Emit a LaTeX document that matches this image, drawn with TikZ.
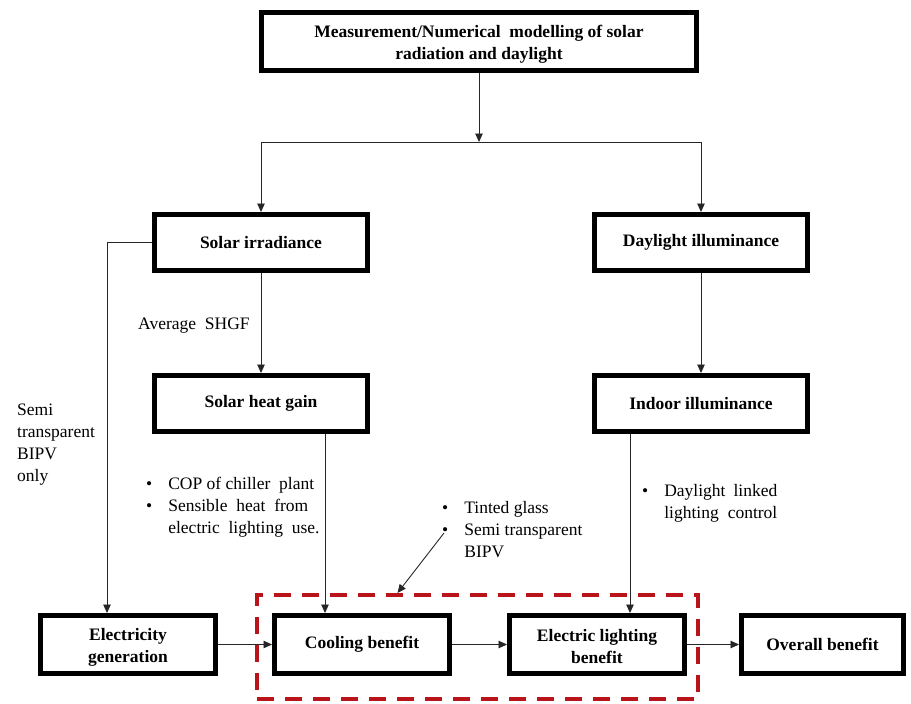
\documentclass[tikz,border=0pt]{standalone}
\usepackage{fontspec}
\setmainfont{Liberation Serif}
\usetikzlibrary{calc,arrows.meta}
\usetikzlibrary{positioning}
\definecolor{boxred}{RGB}{185,20,25}

\begin{document}
\begin{tikzpicture}[
    x=1pt, y=-1pt,
    block/.style={draw=black, line width=5pt, inner sep=2pt, align=center,
        font=\bfseries\fontsize{17.5}{22}\selectfont},
    wide/.style={block, minimum width=435pt, minimum height=58pt},
    midbox/.style={block, minimum width=213pt, minimum height=56pt},
    lowbox/.style={block, minimum width=175pt, minimum height=58pt},
    note/.style={inner sep=0pt, align=left, font=\fontsize{17.5}{22}\selectfont},
    conn/.style={draw=black!85, line width=0.9pt},
    arr/.style={conn, -{Triangle[length=8.5pt, width=7.5pt]}}
]
    \useasboundingbox (0,0) rectangle (911,704);

    % boxes
    \node[wide] (meas) at (479,41.5) {\rule{0pt}{17pt}Measurement/Numerical\ \ modelling of solar\\radiation and daylight};
    \node[midbox] (irr) at (261,242.5) {Solar irradiance};
    \node[midbox] (dlight) at (701,242.5) {Daylight illuminance};
    \node[midbox] (heat) at (261,403.5) {Solar heat gain};
    \node[midbox] (indoor) at (701,403.5) {Indoor illuminance};
    \node[lowbox] (elec) at (128,644.5) {\rule{0pt}{17pt}Electricity\\generation};
    \node[lowbox] (cool) at (362,644.5) {Cooling benefit};
    \node[lowbox] (light) at (597,644.5) {\rule{0pt}{17pt}Electric lighting\\benefit};
    \node[lowbox, minimum width=162pt] (overall) at (822.5,644.5) {Overall benefit};
    \node[draw=boxred, line width=4pt, dash pattern=on 17pt off 11pt, inner sep=0pt,
        minimum width=441pt, minimum height=104pt] (focus) at (477.5,647) {};

    % notes
    \node[note, anchor=west] (shgf) at (138,326) {Average\ \ SHGF};
    \node[note, anchor=west] (bipv) at (17,444.5) {Semi\\transparent\\BIPV\\only};
    \node[note, anchor=west] (cop) at (146,507) {\begin{tabular}{@{}l@{\hspace{16pt}}l@{}}
        \textbullet & COP of chiller\ \ plant\\
        \textbullet & Sensible\ \ heat\ \ from\\
                    & electric\ \ lighting\ \ use.
    \end{tabular}};
    \node[note, anchor=west] (tint) at (442,531) {\begin{tabular}{@{}l@{\hspace{16pt}}l@{}}
        \textbullet & Tinted glass\\
        \textbullet & Semi transparent\\
                    & BIPV
    \end{tabular}};
    \node[note, anchor=west] (dlc) at (642,503.5) {\begin{tabular}{@{}l@{\hspace{16pt}}l@{}}
        \textbullet & \makebox[113pt][s]{Daylight linked}\\
                    & \makebox[113pt][s]{lighting control}
    \end{tabular}};

    % connectors
    \coordinate (split) at (479,142);
    \draw[arr] (meas.south) -- (split);
    \draw[arr] (split) -| (irr.north);
    \draw[arr] (split) -| (dlight.north);
    \draw[arr] (irr) -- (heat);
    \draw[arr] (dlight) -- (indoor);
    \draw[arr] (irr.west) -| ([xshift=-21pt]elec.north);
    \draw[arr] ([xshift=64pt]heat.south) -- ([xshift=64pt]heat.south |- cool.north);
    \draw[arr] ([xshift=-71pt]indoor.south) -- ([xshift=-71pt]indoor.south |- light.north);
    \draw[arr] (elec) -- (cool);
    \draw[arr] (cool) -- (light);
    \draw[arr] (light) -- (overall);
    \draw[arr] ($(tint.west)+(2,2)$) -- ([xshift=-80pt]focus.north);
\end{tikzpicture}
\end{document}
